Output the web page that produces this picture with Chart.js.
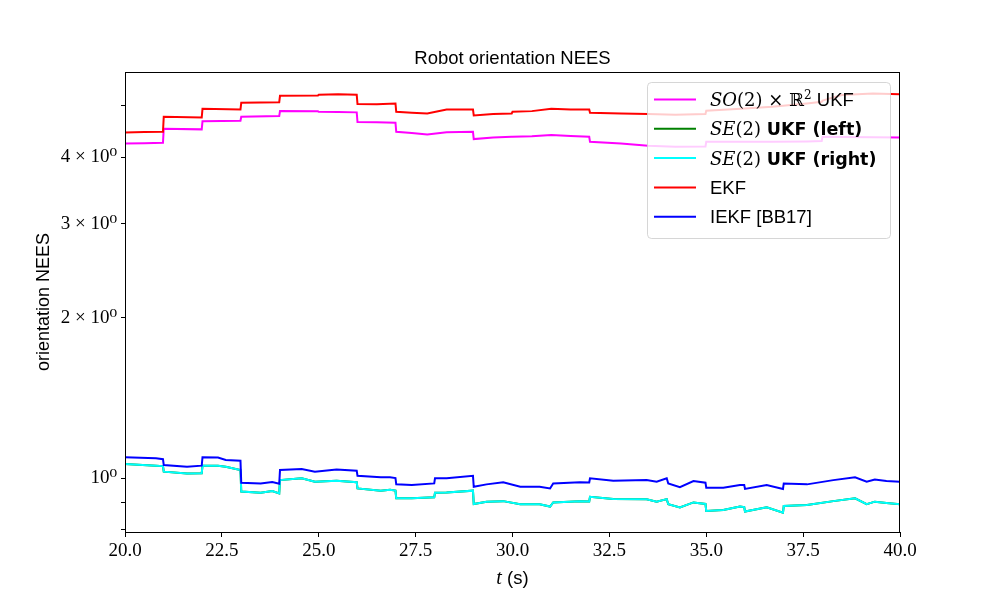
<!DOCTYPE html>
<html>
<head>
<meta charset="utf-8">
<script src="https://cdn.jsdelivr.net/npm/chart.js@4.4.0/dist/chart.umd.min.js"></script>
<style>
  body { margin: 0; background: #fff; }
  #wrap { width: 1000px; height: 600px; }
</style>
</head>
<body>
<div id="wrap"><canvas id="neesChart" width="1000" height="600"></canvas></div>
<script>
// time stamps (s) for the two upper curves
const topTimes = [20, 20.5, 20.98, 21, 21.98, 22, 22.98, 23, 23.98, 24, 24.98, 25, 25.5, 25.98,
  26, 26.5, 26.98, 27, 27.4, 27.8, 28.3, 28.98, 29, 29.5, 29.98, 30, 30.5, 31, 31.5, 31.98,
  32, 32.8, 33.5, 34.2, 34.98, 35, 36, 36.7, 37.6, 37.98, 38, 38.5, 39.3, 40];

const ekfNees = [4.452, 4.458, 4.464, 4.763, 4.750, 4.930, 4.917, 5.059, 5.074, 5.215, 5.220, 5.237, 5.253, 5.237,
  5.031, 5.030, 5.046, 4.866, 4.846, 4.833, 4.917, 4.917, 4.792, 4.819, 4.833, 4.866, 4.881, 4.930, 4.913, 4.917,
  4.846, 4.829, 4.819, 4.804, 4.819, 4.888, 4.935, 4.973, 5.046, 5.081, 5.108, 5.231, 5.270, 5.253];

const so2UkfNees = [4.246, 4.250, 4.257, 4.523, 4.511, 4.670, 4.682, 4.763, 4.777, 4.881, 4.876, 4.866, 4.862, 4.855,
  4.656, 4.650, 4.642, 4.464, 4.440, 4.414, 4.455, 4.464, 4.325, 4.357, 4.368, 4.368, 4.380, 4.401, 4.385, 4.368,
  4.275, 4.242, 4.202, 4.184, 4.190, 4.275, 4.275, 4.275, 4.280, 4.288, 4.368, 4.365, 4.360, 4.357];

// time stamps (s) for the lower curves
const lowTimes = [20, 20.8, 20.98, 21, 21.6, 21.98, 22, 22.4, 22.6, 22.98, 23, 23.5, 23.8, 23.98,
  24, 24.56, 24.9, 25.46, 25.98, 26, 26.6, 26.84, 26.98, 27, 27.4, 27.98, 28, 28.3, 28.98,
  29, 29.33, 29.76, 30.2, 30.7, 30.97, 31.05, 31.74, 31.98, 32, 32.6, 33.46, 33.72, 33.98,
  34.02, 34.32, 34.67, 34.98, 35, 35.44, 35.87, 35.98, 36, 36.56, 36.98, 37, 37.6, 38.28,
  38.84, 39.14, 39.35, 39.65, 40];

const iekfNees = [1.094, 1.089, 1.085, 1.058, 1.050, 1.055, 1.094, 1.093, 1.081, 1.078, 0.980, 0.977, 0.983, 0.976,
  1.035, 1.040, 1.028, 1.037, 1.032, 1.010, 1.003, 1.003, 1.000, 0.973, 0.970, 0.977, 0.999, 0.999, 1.010,
  0.963, 0.973, 0.982, 0.963, 0.963, 0.956, 0.977, 0.982, 0.981, 0.999, 0.988, 0.991, 0.984, 0.999,
  0.977, 0.961, 0.987, 0.980, 0.959, 0.959, 0.970, 0.970, 0.954, 0.970, 0.954, 0.977, 0.973, 0.991,
  1.003, 0.984, 0.994, 0.987, 0.984];

const se2RightNees = [1.062, 1.055, 1.053, 1.028, 1.020, 1.021, 1.055, 1.054, 1.050, 1.035, 0.943, 0.938, 0.945, 0.936,
  0.991, 0.999, 0.984, 0.988, 0.982, 0.956, 0.947, 0.951, 0.947, 0.916, 0.916, 0.920, 0.938, 0.939, 0.947,
  0.894, 0.903, 0.905, 0.893, 0.893, 0.884, 0.900, 0.905, 0.904, 0.922, 0.913, 0.912, 0.903, 0.913,
  0.893, 0.881, 0.900, 0.894, 0.867, 0.871, 0.884, 0.882, 0.865, 0.881, 0.861, 0.886, 0.890, 0.905,
  0.916, 0.893, 0.903, 0.898, 0.893];

// left and right SE(2) UKF lie on top of each other in the picture
const se2LeftNees = se2RightNees.slice();

const xTickValues = [20, 22.5, 25, 27.5, 30, 32.5, 35, 37.5, 40];
const yTickValues = [0.8, 0.9, 1, 2, 3, 4, 5];
const yTickLabels = ['', '', '10\u2070', '2 \u00d7 10\u2070', '3 \u00d7 10\u2070', '4 \u00d7 10\u2070', ''];

const SANS = '"Liberation Sans", Arial, sans-serif';
const SERIF = '"Liberation Serif", "DejaVu Serif", serif';
const MATH = '"DejaVu Serif", serif';
const BOLD = '"DejaVu Sans", sans-serif';

function pts(times, vals) {
  return times.map((t, i) => ({ x: t, y: vals[i] }));
}

function series(data, color, order) {
  return {
    data: data,
    borderColor: color,
    backgroundColor: color,
    borderWidth: 2,
    pointRadius: 0,
    tension: 0,
    fill: false,
    order: order
  };
}

// legend rows: runs of [text, font, dy]
const legendRows = [
  { color: '#ff00ff', runs: [['SO', 'italic 18px ' + MATH], ['(2) \u00d7 \u211d', '18px ' + MATH], ['2', '12px ' + MATH, -7], [' UKF', '18.5px ' + SANS]] },
  { color: '#008000', runs: [['SE', 'italic 18px ' + MATH], ['(2) ', '18px ' + MATH], ['UKF (left)', 'bold 17.5px ' + BOLD]] },
  { color: '#00ffff', runs: [['SE', 'italic 18px ' + MATH], ['(2) ', '18px ' + MATH], ['UKF (right)', 'bold 17.5px ' + BOLD]] },
  { color: '#ff0000', runs: [['EKF', '18.5px ' + SANS]] },
  { color: '#0000ff', runs: [['IEKF [BB17]', '18.5px ' + SANS]] }
];

function drawRuns(ctx, x, y, runs) {
  runs.forEach(r => {
    ctx.font = r[1];
    ctx.fillText(r[0], x, y + (r[2] || 0));
    x += ctx.measureText(r[0]).width;
  });
}

const decor = {
  id: 'decor',
  afterDraw(chart) {
    const ctx = chart.ctx;
    const a = chart.chartArea;
    ctx.save();
    // frame
    ctx.strokeStyle = '#000';
    ctx.lineWidth = 1;
    ctx.strokeRect(a.left + 0.5, a.top + 0.5, a.right - a.left - 1, a.bottom - a.top);

    ctx.fillStyle = '#000';
    ctx.textBaseline = 'alphabetic';
    // title
    ctx.font = '18.5px ' + SANS;
    ctx.textAlign = 'center';
    ctx.fillText('Robot orientation NEES', (a.left + a.right) / 2, 64);

    // x title: t (s)
    ctx.textAlign = 'left';
    ctx.font = 'italic 20px ' + SERIF;
    const w1 = ctx.measureText('t').width;
    ctx.font = '18.5px ' + SANS;
    const w2 = ctx.measureText(' (s)').width;
    const xs = (a.left + a.right) / 2 - (w1 + w2) / 2;
    drawRuns(ctx, xs, 584, [['t', 'italic 20px ' + SERIF], [' (s)', '18.5px ' + SANS]]);

    // y title
    ctx.save();
    ctx.translate(49, (a.top + a.bottom) / 2);
    ctx.rotate(-Math.PI / 2);
    ctx.textAlign = 'center';
    ctx.font = '18px ' + SANS;
    ctx.fillText('orientation NEES', 0, 0);
    ctx.restore();

    // legend
    const lx = 647, ly = 82, lw = 243, lh = 156;
    ctx.beginPath();
    ctx.roundRect(lx + 0.5, ly + 0.5, lw, lh, 4);
    ctx.fillStyle = 'rgba(255,255,255,0.8)';
    ctx.fill();
    ctx.strokeStyle = 'rgba(204,204,204,0.8)';
    ctx.stroke();
    ctx.textAlign = 'left';
    legendRows.forEach((row, i) => {
      const cy = 99.5 + i * 29.3;
      ctx.strokeStyle = row.color;
      ctx.lineWidth = 2;
      ctx.beginPath();
      ctx.moveTo(654, cy);
      ctx.lineTo(696, cy);
      ctx.stroke();
      ctx.fillStyle = '#000';
      drawRuns(ctx, 710, cy + 6.5, row.runs);
    });
    ctx.restore();
  }
};

new Chart(document.getElementById('neesChart').getContext('2d'), {
  type: 'line',
  data: {
    datasets: [
      series(pts(topTimes, so2UkfNees), '#ff00ff', 4),
      series(pts(lowTimes, se2LeftNees), '#008000', 3),
      series(pts(lowTimes, se2RightNees), '#00ffff', 2),
      series(pts(topTimes, ekfNees), '#ff0000', 1),
      series(pts(lowTimes, iekfNees), '#0000ff', 0)
    ]
  },
  options: {
    responsive: false,
    animation: false,
    layout: { padding: { left: 0, top: 72, right: 100, bottom: 0 } },
    plugins: {
      legend: { display: false },
      title: { display: false },
      tooltip: { enabled: false }
    },
    scales: {
      x: {
        type: 'linear',
        min: 20,
        max: 40,
        afterBuildTicks: s => { s.ticks = xTickValues.map(v => ({ value: v })); },
        afterFit: s => { s.height = 68; },
        grid: { drawOnChartArea: false, drawTicks: true, tickLength: 5, color: '#000' },
        border: { display: true, color: '#000' },
        ticks: {
          autoSkip: false,
          maxRotation: 0,
          padding: 3,
          color: '#000',
          font: { family: SERIF, size: 19 },
          callback: v => Number(v).toFixed(1)
        }
      },
      y: {
        type: 'logarithmic',
        min: 0.792,
        max: 5.78,
        afterBuildTicks: s => { s.ticks = yTickValues.map(v => ({ value: v })); },
        afterFit: s => { s.width = 125; },
        grid: { drawOnChartArea: false, drawTicks: true, tickLength: 4, color: '#000' },
        border: { display: true, color: '#000' },
        ticks: {
          autoSkip: false,
          padding: 4,
          color: '#000',
          font: { family: SERIF, size: 19 },
          callback: (v, i) => yTickLabels[i]
        }
      }
    }
  },
  plugins: [decor]
});
</script>
</body>
</html>
